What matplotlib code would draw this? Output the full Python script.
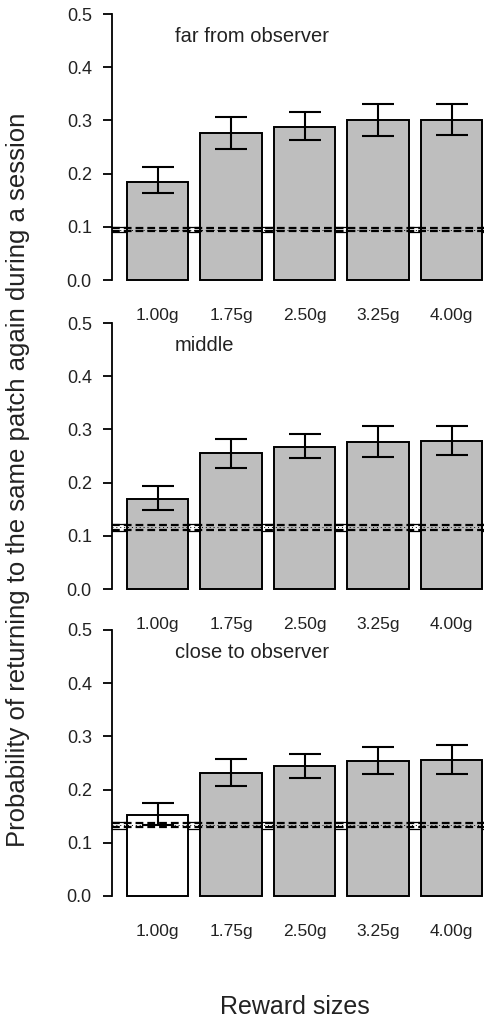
import numpy as np
import matplotlib
matplotlib.use('Agg')
import matplotlib.pyplot as plt

plt.rcParams['font.family'] = ['Liberation Sans', 'DejaVu Sans']

sizes = ['1.00g', '1.75g', '2.50g', '3.25g', '4.00g']
panel_titles = ['far from observer', 'middle', 'close to observer']

means_far = [0.185, 0.276, 0.288, 0.300, 0.300]
lo_far = [0.163, 0.246, 0.264, 0.270, 0.272]
hi_far = [0.212, 0.306, 0.315, 0.330, 0.330]

means_mid = [0.170, 0.255, 0.267, 0.276, 0.279]
lo_mid = [0.148, 0.228, 0.246, 0.249, 0.252]
hi_mid = [0.194, 0.282, 0.291, 0.306, 0.306]

means_close = [0.153, 0.232, 0.244, 0.253, 0.256]
lo_close = [0.133, 0.207, 0.222, 0.229, 0.229]
hi_close = [0.174, 0.258, 0.267, 0.280, 0.283]

# chance level (lower bound, upper bound) per panel
chance_far = (0.0896, 0.0996)
chance_mid = (0.1095, 0.1220)
chance_close = (0.1266, 0.1390)

bar_colors_far = ['#bebebe'] * 5
bar_colors_mid = ['#bebebe'] * 5
bar_colors_close = ['white'] + ['#bebebe'] * 4

panels = [
    (means_far, lo_far, hi_far, chance_far, bar_colors_far),
    (means_mid, lo_mid, hi_mid, chance_mid, bar_colors_mid),
    (means_close, lo_close, hi_close, chance_close, bar_colors_close),
]

W, H = 484, 1023
fig = plt.figure(figsize=(W / 100, H / 100), dpi=100)

# pixel rows of the 0.0 line for each panel
zero_px = [280, 589, 896]
unit_px = 532  # pixels per 1.0 on y
x_left_px, x_right_px = 112, 484
xlim = (-0.619, 4.44)
ylim = (-0.02, 0.52)
txt = '#222222'

for k, (m, lo, hi, ch, cols) in enumerate(panels):
    bottom_px = zero_px[k] + 0.02 * unit_px
    height_px = (ylim[1] - ylim[0]) * unit_px
    ax = fig.add_axes([x_left_px / W, 1 - bottom_px / H,
                       (x_right_px - x_left_px) / W, height_px / H])
    x = np.arange(len(sizes))
    m = np.array(m)
    lo = np.array(lo)
    hi = np.array(hi)

    # solid chance band lines behind the bars
    for v in ch:
        ax.axhline(v, color='black', lw=0.9, zorder=1)

    ax.bar(x, m, width=0.833, color=cols, edgecolor='black', linewidth=1.4, zorder=2)

    # dashed lines drawn over the bars
    d = (ch[1] - ch[0]) * 0.18
    ax.axhline(ch[1] - d, color='black', lw=1.6, ls=(0, (3.5, 1.8)), zorder=3)
    ax.axhline(ch[0] + d, color='black', lw=1.6, ls=(0, (3.5, 1.8)), zorder=3)
    ax.axhline((ch[0] + ch[1]) / 2, color='black', lw=0.7, ls=(0, (1, 3)), zorder=3)

    ax.errorbar(x, m, yerr=[m - lo, hi - m], fmt='none', ecolor='black',
                elinewidth=1.5, capsize=11.5, capthick=1.5, zorder=4)

    ax.set_xlim(*xlim)
    ax.set_ylim(*ylim)
    for s in ['top', 'right', 'bottom']:
        ax.spines[s].set_visible(False)
    ax.spines['left'].set_bounds(0, 0.5)
    ax.spines['left'].set_linewidth(1.3)
    ax.set_yticks(np.arange(0, 0.51, 0.1))
    ax.set_yticklabels(['%.1f' % v for v in np.arange(0, 0.51, 0.1)])
    ax.tick_params(axis='y', length=6.5, width=1.3, pad=8, labelsize=13,
                   labelcolor=txt)
    ax.set_xticks(x)
    ax.set_xticklabels(sizes)
    ax.tick_params(axis='x', length=0, pad=12.5, labelsize=12.5, labelcolor=txt)
    ax.patch.set_alpha(0)

    ax.text(0.238, 0.457, panel_titles[k], ha='left', va='center',
            fontsize=14.5, color=txt)

fig.text(18 / W, 1 - 480 / H, 'Probability of returning to the same patch again during a session',
         rotation=90, ha='center', va='center', fontsize=18.5, color=txt)
fig.text(295 / W, 1 - 1007 / H, 'Reward sizes', ha='center', va='center',
         fontsize=18, color=txt)

fig.savefig('out.png', dpi=100)
